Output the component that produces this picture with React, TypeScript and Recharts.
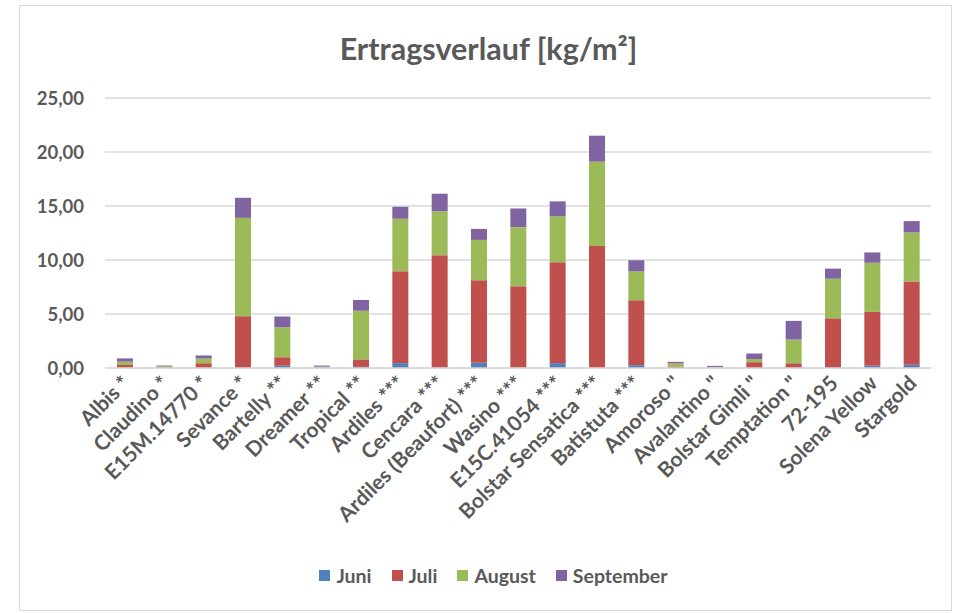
import React from "react";
import { BarChart, Bar, XAxis, YAxis, CartesianGrid, Legend } from "recharts";

const categories = [
  "Albis *", "Claudino *", "E15M.14770 *", "Sevance *", "Bartelly **", "Dreamer **",
  "Tropical **", "Ardiles ***", "Cencara ***", "Ardiles (Beaufort) ***", "Wasino ***",
  "E15C.41054 ***", "Bolstar Sensatica ***", "Batistuta ***", "Amoroso \"", "Avalantino \"",
  "Bolstar Gimli \"", "Temptation \"", "72-195", "Solena Yellow", "Stargold",
];
const juni = [0.02, 0, 0, 0, 0.2, 0.05, 0.1, 0.45, 0.05, 0.48, 0.03, 0.45, 0.02, 0.26, 0, 0, 0, 0, 0, 0.2, 0.3];
const juli = [0.26, 0.08, 0.44, 4.8, 0.8, 0.03, 0.7, 8.5, 10.4, 7.65, 7.55, 9.35, 11.27, 6.02, 0.14, 0.03, 0.54, 0.44, 4.6, 4.99, 7.7];
const august = [0.31, 0.08, 0.44, 9.1, 2.77, 0.05, 4.5, 4.87, 4.06, 3.73, 5.46, 4.24, 7.82, 2.66, 0.28, 0.07, 0.28, 2.19, 3.67, 4.56, 4.55];
const september = [0.3, 0.07, 0.28, 1.86, 0.99, 0.1, 1.0, 1.11, 1.63, 1.02, 1.73, 1.39, 2.4, 1.04, 0.15, 0.1, 0.52, 1.73, 0.93, 0.95, 1.05];
const yTicks = [0, 5, 10, 15, 20, 25];
const seriesNames = ["Juni", "Juli", "August", "September"];
const seriesColors = ["#4f81bd", "#c0504d", "#9bbb59", "#8064a2"];

const data = categories.map((name, i) => ({
  name,
  Juni: juni[i],
  Juli: juli[i],
  August: august[i],
  September: september[i],
}));

const FONT = "Lato, 'Open Sans', sans-serif";
const GREY = "#595959";

const XTick = (props: any) => {
  const { x, y, payload } = props;
  return (
    <g transform={`translate(${x + 1},${y + 3})`}>
      <text
        x={0}
        y={0}
        dy={8}
        textAnchor="end"
        transform="rotate(-45)"
        fill={GREY}
        fontSize={21}
        fontWeight={700}
        fontFamily={FONT}
      >
        {payload.value}
      </text>
    </g>
  );
};

const LegendContent = () => (
  <div
    style={{
      display: "flex",
      justifyContent: "center",
      alignItems: "center",
      fontFamily: FONT,
      fontWeight: 700,
      fontSize: 19.5,
      color: GREY,
      height: 26,
      paddingLeft: 36,
    }}
  >
    {seriesNames.map((n, i) => (
      <div key={n} style={{ display: "flex", alignItems: "center", marginRight: i < 3 ? 20 : 0 }}>
        <span style={{ width: 11, height: 11, background: seriesColors[i], marginRight: 6, display: "inline-block" }} />
        <span>{n}</span>
      </div>
    ))}
  </div>
);

export default function App() {
  return (
    <div style={{ position: "fixed", left: 0, top: 0, width: 958, height: 613, background: "#fff" }}>
      <div
        style={{
          position: "absolute",
          left: 19,
          top: 5,
          width: 933,
          height: 606,
          border: "1px solid #d9d9d9",
          boxSizing: "border-box",
        }}
      >
        <div
          style={{
            position: "absolute",
            left: 2,
            top: 23,
            width: 933,
            textAlign: "center",
            fontFamily: FONT,
            fontWeight: 700,
            fontSize: 30.5,
            color: GREY,
            lineHeight: "38px",
          }}
        >
          Ertragsverlauf [kg/m²]
        </div>
        <BarChart
          width={931}
          height={604}
          data={data}
          margin={{ top: 92, right: 20, bottom: 22, left: 0 }}
          barSize={16}
        >
          <CartesianGrid vertical={false} stroke="#d9d9d9" strokeWidth={1.5} />
          <XAxis
            dataKey="name"
            interval={0}
            height={194}
            tick={<XTick />}
            tickLine={false}
            axisLine={{ stroke: "#d9d9d9", strokeWidth: 1.5 }}
          />
          <YAxis
            width={85}
            domain={[0, 25]}
            ticks={yTicks}
            tickFormatter={(v: number) => v.toFixed(2).replace(".", ",")}
            tickLine={false}
            axisLine={false}
            tickMargin={15}
            tick={{ fill: GREY, fontSize: 18.5, fontWeight: 700, fontFamily: FONT }}
          />
          <Legend verticalAlign="bottom" content={<LegendContent />} />
          {seriesNames.map((n, i) => (
            <Bar key={n} dataKey={n} stackId="a" fill={seriesColors[i]} isAnimationActive={false} />
          ))}
        </BarChart>
      </div>
    </div>
  );
}
